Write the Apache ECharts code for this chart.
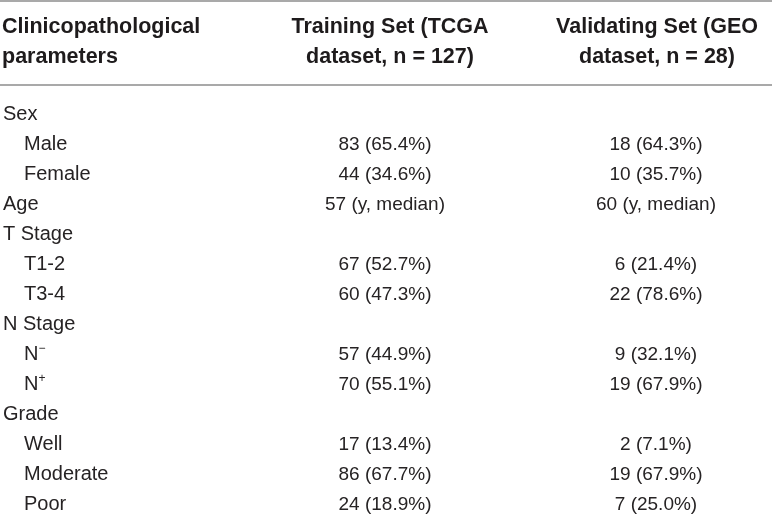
<!DOCTYPE html>
<html lang="en">
<head>
    <meta charset="UTF-8">
    <title>Clinicopathological parameters</title>
    <script src="https://cdn.jsdelivr.net/npm/echarts@6/dist/echarts.min.js"></script>
    <style>
        html, body { margin: 0; padding: 0; background: #fff; }
        #main { width: 772px; height: 516px; }
    </style>
</head>
<body>
<div id="main"></div>
<script>
    // table content
    var headers = [
        ['Clinicopathological', 'parameters'],
        ['Training Set (TCGA', 'dataset, n = 127)'],
        ['Validating Set (GEO', 'dataset, n = 28)']
    ];
    // {sup|...} marks superscript text
    var rowLabels = ['Sex', 'Male', 'Female', 'Age', 'T Stage', 'T1-2', 'T3-4',
        'N Stage', 'N{sup|−}', 'N{sup|+}', 'Grade', 'Well', 'Moderate', 'Poor'];
    var rowIndent = [0, 1, 1, 0, 0, 1, 1, 0, 1, 1, 0, 1, 1, 1];
    var trainingSet = ['', '83 (65.4%)', '44 (34.6%)', '57 (y, median)', '',
        '67 (52.7%)', '60 (47.3%)', '', '57 (44.9%)', '70 (55.1%)', '',
        '17 (13.4%)', '86 (67.7%)', '24 (18.9%)'];
    var validatingSet = ['', '18 (64.3%)', '10 (35.7%)', '60 (y, median)', '',
        '6 (21.4%)', '22 (78.6%)', '', '9 (32.1%)', '19 (67.9%)', '',
        '2 (7.1%)', '19 (67.9%)', '7 (25.0%)'];

    var myChart = echarts.init(document.getElementById('main'));

    var font = '"Liberation Sans", Arial, Helvetica, sans-serif';
    var textColor = '#262324';
    var headX = [2, 390, 657];
    var bodyX = [3, 385, 656];
    var firstRowY = 114.5;
    var rowStep = 30;

    var elements = [];

    // rules
    [1, 85].forEach(function (y) {
        elements.push({
            type: 'line',
            shape: { x1: 0, y1: y, x2: 772, y2: y },
            style: { stroke: '#8c8c8c', lineWidth: 1.5 }
        });
    });

    // header
    headers.forEach(function (lines, c) {
        lines.forEach(function (t, k) {
            elements.push({
                type: 'text',
                x: headX[c],
                y: 27.5 + k * 30,
                style: {
                    text: t,
                    font: 'bold 21.5px ' + font,
                    fill: '#1e1b1c',
                    align: c === 0 ? 'left' : 'center',
                    verticalAlign: 'middle'
                }
            });
        });
    });

    // body
    var rich = {
        sup: { fontSize: 12, fontFamily: font, fill: textColor, verticalAlign: 'top', padding: [0, 0, 11, 0] }
    };
    rowLabels.forEach(function (label, i) {
        var y = firstRowY + i * rowStep;
        elements.push({
            type: 'text',
            x: bodyX[0] + rowIndent[i] * 21,
            y: y,
            style: {
                text: label,
                fontSize: 20,
                fontFamily: font,
                fill: textColor,
                align: 'left',
                verticalAlign: 'middle',
                rich: rich
            }
        });
        [trainingSet[i], validatingSet[i]].forEach(function (v, c) {
            if (!v) return;
            elements.push({
                type: 'text',
                x: bodyX[c + 1],
                y: y,
                style: {
                    text: v,
                    fontSize: 19,
                    fontFamily: font,
                    fill: textColor,
                    align: 'center',
                    verticalAlign: 'middle'
                }
            });
        });
    });

    myChart.setOption({
        animation: false,
        graphic: { elements: elements }
    });
</script>
</body>
</html>
